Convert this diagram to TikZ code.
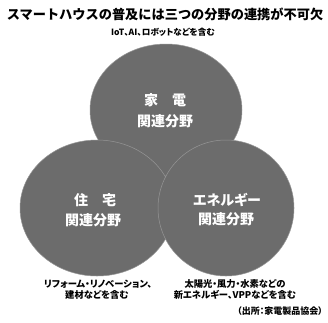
\documentclass[tikz,border=0pt]{standalone}
\usepackage{fontspec}
\newfontfamily\jp[RawFeature=+palt]{Noto Sans CJK JP}
\newfontfamily\jpm{Noto Sans CJK JP}
\definecolor{disc}{RGB}{108,108,108}
\definecolor{discedge}{RGB}{150,150,150}
\begin{document}
\begin{tikzpicture}[x=1pt,y=-1pt,
  title/.style={font=\jpm\bfseries\fontsize{13.2}{13.2}\selectfont, text=black, inner sep=0pt},
  note/.style={font=\jp\bfseries\fontsize{9.3}{9.3}\selectfont, text=black, inner sep=0pt},
  big/.style={font=\jpm\bfseries\fontsize{14}{14}\selectfont, text=white, inner sep=0pt},
  disk/.style={fill=disc, draw=discedge, line width=0.5pt}]
\useasboundingbox[fill=white] (0,0) rectangle (328,322);
% circles
\fill[disk] (166,110) ellipse [x radius=76, y radius=66];
\fill[disk] (97,208) ellipse [x radius=77, y radius=68];
\fill[disk] (226,208) ellipse [x radius=68, y radius=68];
% title
\node[title] (t) at (165,14) {スマートハウスの普及には三つの分野の連携が不可欠};
\node[note, font=\jp\bfseries\fontsize{8.6}{8.6}\selectfont] (s) at (163,32) {IoT、AI、ロボットなどを含む};
% circle labels
\node[big] (a1) at (165,100) {家　電};
\node[big] (a2) at (165,121) {関連分野};
\node[big] (b1) at (95,200) {住　宅};
\node[big] (b2) at (93,220) {関連分野};
\node[big, font=\jp\bfseries\fontsize{14}{14}\selectfont] (c1) at (227,200) {エネルギー};
\node[big] (c2) at (226,219) {関連分野};
% notes
\node[note] (l1) at (98,284) {リフォーム・リノベーション、};
\node[note] (l2) at (97,295) {建材などを含む};
\node[note] (r1) at (235,284) {太陽光・風力・水素などの};
\node[note] (r2) at (235,295) {新エネルギー、VPPなどを含む};
\node[note, anchor=east, font=\jp\bfseries\fontsize{9}{9}\selectfont] (src) at (323,311) {（出所：家電製品協会）};
\end{tikzpicture}
\end{document}
